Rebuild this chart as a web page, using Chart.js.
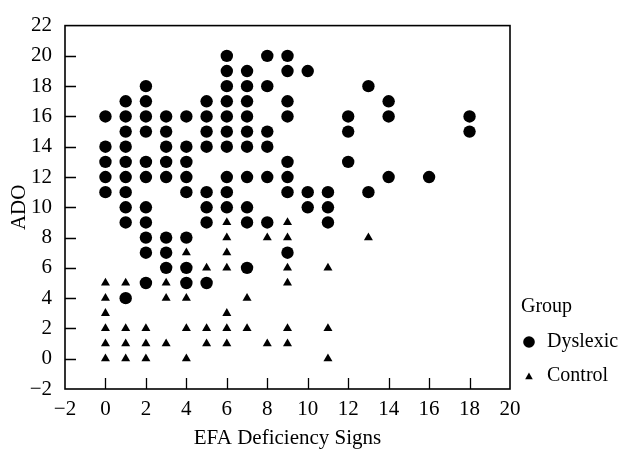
<!DOCTYPE html>
<html>
<head>
<meta charset="utf-8">
<script src="https://cdn.jsdelivr.net/npm/chart.js@4.4.1/dist/chart.umd.min.js"></script>
<style>
  html, body { margin: 0; padding: 0; background: #fff; }
  #wrap { width: 624px; height: 449px; }
</style>
</head>
<body>
<div id="wrap"><canvas id="c" width="624" height="449"></canvas></div>
<script>
// EFA deficiency sign counts (x) and the ADO values observed at each count
const dyslexicEFA = [0, 1, 2, 3, 4, 5, 6, 7, 8, 9, 10, 11, 12, 13, 14, 16, 18];
const dyslexicADO = [
  [16, 14, 13, 12, 11],
  [17, 16, 15, 14, 13, 12, 11, 10, 9, 4],
  [18, 17, 16, 15, 13, 12, 10, 9, 8, 7, 5],
  [16, 15, 14, 13, 12, 8, 7, 6],
  [16, 14, 13, 12, 11, 8, 6, 5],
  [17, 16, 15, 14, 11, 10, 9, 5],
  [20, 19, 18, 17, 16, 15, 14, 12, 11, 10],
  [19, 18, 17, 16, 15, 14, 12, 10, 9, 6],
  [20, 18, 15, 14, 12, 9],
  [20, 19, 17, 16, 13, 12, 11, 7],
  [19, 11, 10],
  [11, 10, 9],
  [16, 15, 13],
  [18, 11],
  [17, 16, 12],
  [12],
  [16, 15]
];
const controlEFA = [0, 1, 2, 3, 4, 5, 6, 7, 8, 9, 11, 13];
const controlADO = [
  [5, 4, 3, 2, 1, 0],
  [5, 2, 1, 0],
  [2, 1, 0],
  [5, 4, 1],
  [7, 4, 2, 0],
  [6, 2, 1],
  [9, 8, 7, 6, 3, 2, 1],
  [4, 2],
  [8, 1],
  [9, 8, 6, 5, 2, 1],
  [6, 2, 0],
  [8]
];
const xTicks = [-2, 0, 2, 4, 6, 8, 10, 12, 14, 16, 18, 20];
const yTicks = [-2, 0, 2, 4, 6, 8, 10, 12, 14, 16, 18, 20, 22];
const groupNames = ['Dyslexic', 'Control'];
const legendTitle = 'Group';
const xTitle = 'EFA Deficiency Signs';
const yTitle = 'ADO';

function toPoints(xs, yss) {
  const pts = [];
  xs.forEach((x, i) => yss[i].forEach(y => pts.push({ x: x, y: y })));
  return pts;
}

const FONT = "'Liberation Serif', 'Times New Roman', serif";

const framePlugin = {
  id: 'frame',
  afterDatasetsDraw(chart) {
    const { ctx, chartArea: a, scales } = chart;
    ctx.save();
    ctx.strokeStyle = '#000';
    ctx.lineWidth = 1.6;
    ctx.strokeRect(a.left, a.top, a.right - a.left, a.bottom - a.top);
    ctx.lineWidth = 1.3;
    ctx.beginPath();
    xTicks.forEach(v => {
      if (v <= xTicks[0] || v >= xTicks[xTicks.length - 1]) return;
      const px = Math.round(scales.x.getPixelForValue(v)) + 0.5;
      ctx.moveTo(px, a.bottom);
      ctx.lineTo(px, a.bottom - 11);
    });
    yTicks.forEach(v => {
      if (v <= yTicks[0] || v >= yTicks[yTicks.length - 1]) return;
      const py = Math.round(scales.y.getPixelForValue(v)) + 0.5;
      ctx.moveTo(a.left, py);
      ctx.lineTo(a.left + 11, py);
    });
    ctx.stroke();

    // legend
    ctx.fillStyle = '#000';
    ctx.font = '20px ' + FONT;
    ctx.textBaseline = 'middle';
    ctx.textAlign = 'left';
    ctx.fillText(legendTitle, 521, 307);
    ctx.fillText(groupNames[0], 547, 342);
    ctx.fillText(groupNames[1], 547, 376);
    ctx.beginPath();
    ctx.arc(529, 342, 5.8, 0, Math.PI * 2);
    ctx.fill();
    const r = 4.4, cx = 529, cy = 377;
    ctx.beginPath();
    ctx.moveTo(cx, cy - r);
    ctx.lineTo(cx + Math.sin(2 * Math.PI / 3) * r, cy + r / 2);
    ctx.lineTo(cx - Math.sin(2 * Math.PI / 3) * r, cy + r / 2);
    ctx.closePath();
    ctx.fill();
    ctx.restore();
  }
};

new Chart(document.getElementById('c'), {
  type: 'scatter',
  data: {
    datasets: [
      {
        label: groupNames[0],
        data: toPoints(dyslexicEFA, dyslexicADO),
        pointStyle: 'circle',
        pointRadius: 6.2,
        pointHoverRadius: 6.2,
        backgroundColor: '#000',
        borderColor: '#000',
        borderWidth: 0
      },
      {
        label: groupNames[1],
        data: toPoints(controlEFA, controlADO),
        pointStyle: 'triangle',
        pointRadius: 5.2,
        pointHoverRadius: 5.2,
        backgroundColor: '#000',
        borderColor: '#000',
        borderWidth: 0
      }
    ]
  },
  options: {
    responsive: false,
    animation: false,
    devicePixelRatio: 1,
    layout: { padding: { top: 18, right: 114, bottom: 0, left: 0 } },
    plugins: { legend: { display: false }, tooltip: { enabled: false } },
    scales: {
      x: {
        type: 'linear',
        min: xTicks[0],
        max: xTicks[xTicks.length - 1],
        afterBuildTicks(scale) { scale.ticks = xTicks.map(v => ({ value: v })); },
        afterFit(scale) { scale.height = 60; },
        grid: { display: false, drawTicks: false },
        border: { display: false },
        ticks: {
          color: '#000',
          font: { family: FONT, size: 21 },
          padding: 8,
          maxRotation: 0,
          autoSkip: false,
          callback: v => (v < 0 ? '\u2212' + Math.abs(v) : String(v))
        },
        title: {
          display: true,
          text: xTitle,
          color: '#000',
          font: { family: FONT, size: 21 },
          padding: { top: 0, bottom: -2 }
        }
      },
      y: {
        type: 'linear',
        min: yTicks[0],
        max: yTicks[yTicks.length - 1],
        afterBuildTicks(scale) { scale.ticks = yTicks.map(v => ({ value: v })); },
        afterFit(scale) { scale.width = 65; },
        grid: { display: false, drawTicks: false },
        border: { display: false },
        ticks: {
          color: '#000',
          font: { family: FONT, size: 21 },
          padding: 13,
          autoSkip: false,
          callback: v => (v < 0 ? '\u2212' + Math.abs(v) : String(v))
        },
        title: {
          display: true,
          text: yTitle,
          color: '#000',
          font: { family: FONT, size: 21 },
          padding: { top: 7, bottom: 0 }
        }
      }
    }
  },
  plugins: [framePlugin]
});
</script>
</body>
</html>
